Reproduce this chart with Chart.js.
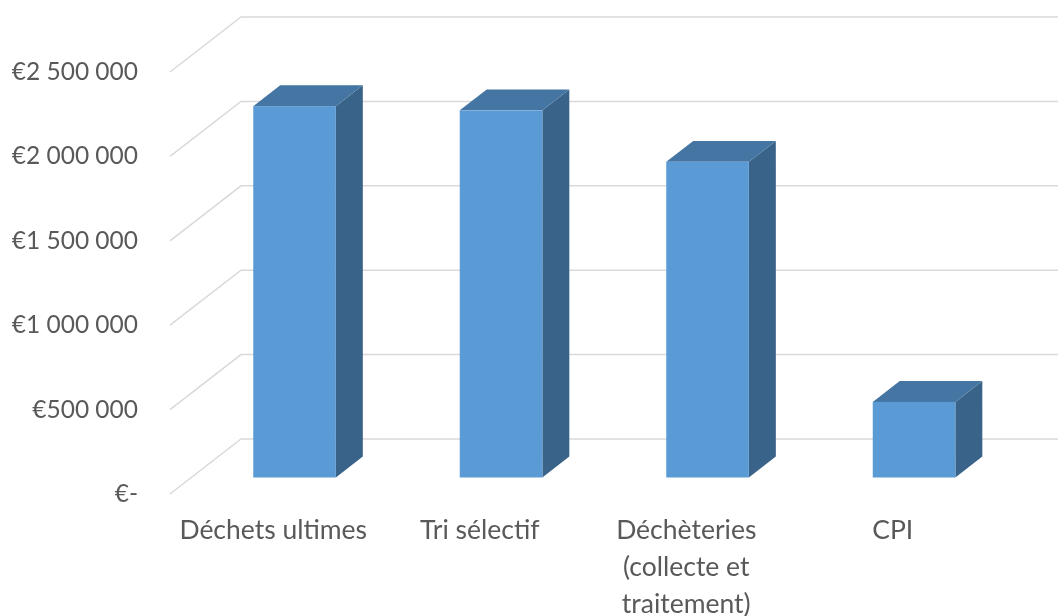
<!DOCTYPE html>
<html>
<head>
<meta charset="utf-8">
<script src="https://cdn.jsdelivr.net/npm/chart.js@4/dist/chart.umd.min.js"></script>
<style>
  html, body { margin: 0; padding: 0; background: #ffffff; }
  #wrap { width: 1058px; height: 616px; }
</style>
</head>
<body>
<div id="wrap"><canvas id="c" width="1058" height="616"></canvas></div>
<script>
const categories = ['Déchets ultimes', 'Tri sélectif', ['Déchèteries', '(collecte et', 'traitement)'], 'CPI'];
const costs = [2200000, 2175000, 1870000, 448000];
const yTickValues = [0, 500000, 1000000, 1500000, 2000000, 2500000];
const yTickLabels = ['€-', '€500 000', '€1 000 000', '€1 500 000', '€2 000 000', '€2 500 000'];

const DEPTH_X = 71, DEPTH_Y = -55;      // full depth of the 3D box
const BAR_FRONT = 0.3, BAR_BACK = 0.68; // bar position within depth
const FRONT_COLOR = '#5b9bd5', TOP_COLOR = '#4575a2', SIDE_COLOR = '#3a6389';
const GRID_COLOR = '#d9d9d9';

const threeD = {
  id: 'threeD',
  beforeDatasetsDraw(chart) {
    const ctx = chart.ctx, ca = chart.chartArea, ys = chart.scales.y;
    ctx.save();
    ctx.strokeStyle = GRID_COLOR;
    ctx.lineWidth = 1.5;
    yTickValues.forEach(v => {
      const yf = ys.getPixelForValue(v);
      ctx.beginPath();
      ctx.moveTo(ca.left, yf);
      ctx.lineTo(ca.left + DEPTH_X, yf + DEPTH_Y);
      ctx.lineTo(ca.right + DEPTH_X, yf + DEPTH_Y);
      ctx.stroke();
    });
    const meta = chart.getDatasetMeta(0);
    const fx = BAR_FRONT * DEPTH_X, fy = BAR_FRONT * DEPTH_Y;
    const bx = (BAR_BACK - BAR_FRONT) * DEPTH_X, by = (BAR_BACK - BAR_FRONT) * DEPTH_Y;
    meta.data.forEach(el => {
      const p = el.getProps(['x', 'y', 'base', 'width'], true);
      const l = p.x - p.width / 2 + fx, r = p.x + p.width / 2 + fx;
      const t = p.y + fy, b = p.base + fy;
      ctx.fillStyle = SIDE_COLOR;
      ctx.beginPath();
      ctx.moveTo(r, t); ctx.lineTo(r + bx, t + by); ctx.lineTo(r + bx, b + by); ctx.lineTo(r, b);
      ctx.closePath(); ctx.fill();
      ctx.fillStyle = TOP_COLOR;
      ctx.beginPath();
      ctx.moveTo(l, t); ctx.lineTo(l + bx, t + by); ctx.lineTo(r + bx, t + by); ctx.lineTo(r, t);
      ctx.closePath(); ctx.fill();
      ctx.fillStyle = FRONT_COLOR;
      ctx.fillRect(l, t, r - l, b - t);
    });
    ctx.restore();
  }
};

new Chart(document.getElementById('c'), {
  type: 'bar',
  data: {
    labels: categories,
    datasets: [{
      data: costs,
      backgroundColor: 'rgba(0,0,0,0)',
      borderWidth: 0,
      barPercentage: 0.4,
      categoryPercentage: 1.0
    }]
  },
  options: {
    responsive: false,
    animation: false,
    events: [],
    layout: { padding: { left: 0, right: 62, top: 72, bottom: 0 } },
    plugins: { legend: { display: false }, tooltip: { enabled: false } },
    scales: {
      x: {
        grid: { display: false, drawTicks: false },
        border: { display: false },
        ticks: {
          color: '#595959',
          font: { family: 'Lato', size: 26.5, lineHeight: 1.4 },
          padding: 18,
          maxRotation: 0,
          autoSkip: false
        },
        afterFit(scale) { scale.height = 122; }
      },
      y: {
        min: 0, max: 2500000,
        afterBuildTicks(scale) { scale.ticks = yTickValues.map(v => ({ value: v })); },
        grid: { display: false, drawTicks: false },
        border: { display: false },
        ticks: {
          color: '#595959',
          font: { family: 'Lato', size: 24.5 },
          padding: 32,
          callback(value) { return yTickLabels[yTickValues.indexOf(value)]; }
        },
        afterFit(scale) { scale.width = 170; }
      }
    }
  },
  plugins: [threeD]
});
</script>
</body>
</html>
